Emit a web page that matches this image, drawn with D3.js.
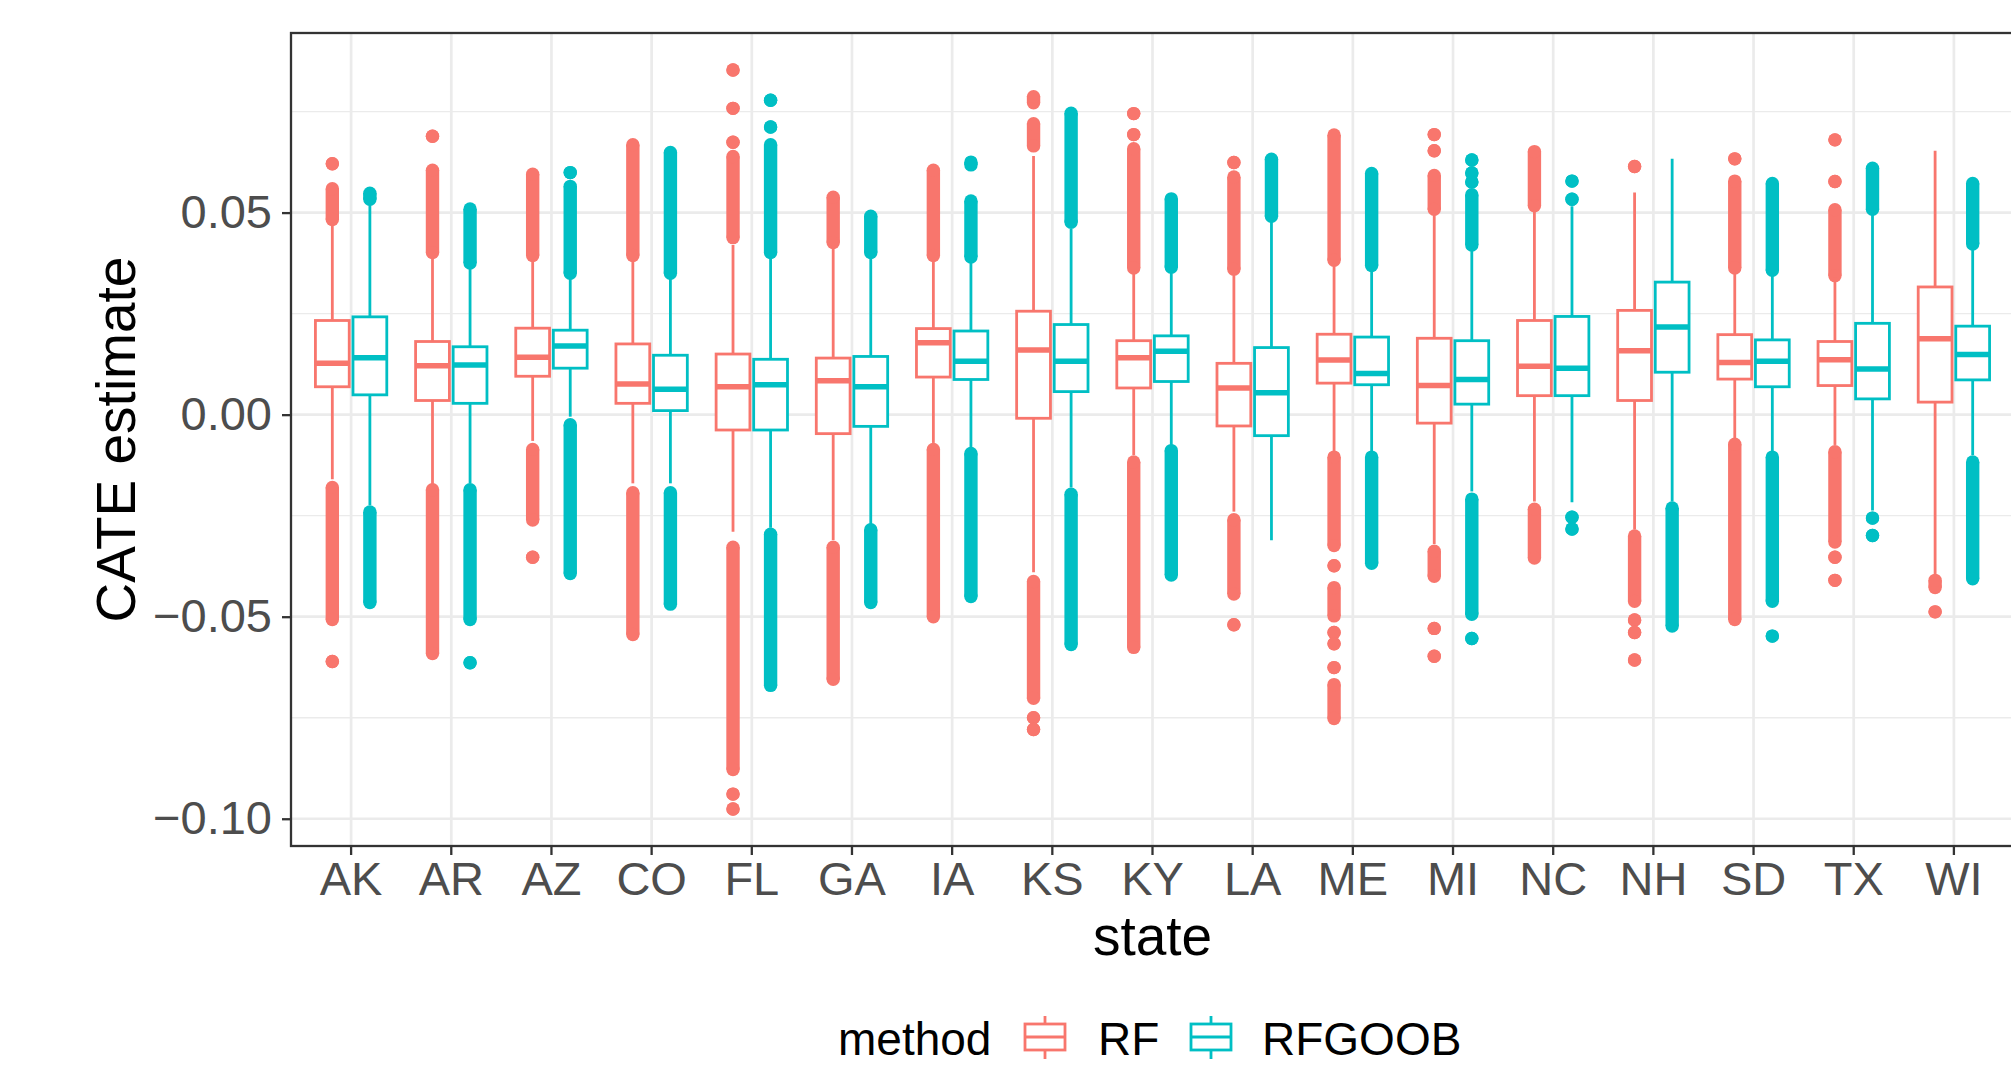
<!DOCTYPE html>
<html>
<head>
<meta charset="utf-8">
<script src="https://cdn.jsdelivr.net/npm/d3@7"></script>
<style>
  body { margin: 0; background: #fff; }
  text { font-family: "Liberation Sans", Arial, Helvetica, sans-serif; }
</style>
</head>
<body>
<div class="canvas"></div>
<script>

// categories and series
const states = ['AK','AR','AZ','CO','FL','GA','IA','KS','KY','LA','ME','MI','NC','NH','SD','TX','WI']
const methods = ['RF', 'RFGOOB']
const yTicks = [-0.10, -0.05, 0.00, 0.05]

// RF box stats, one per state
const rfQ1 = [0.0069, 0.0035, 0.0095, 0.0028, -0.0038, -0.0047, 0.0093, -0.0009, 0.0066, -0.0028, 0.0078, -0.0021, 0.0047, 0.0035, 0.0088, 0.0072, 0.0031]
const rfMedian = [0.0127, 0.0121, 0.0142, 0.0076, 0.0069, 0.0084, 0.0178, 0.0160, 0.0141, 0.0066, 0.0135, 0.0072, 0.0120, 0.0158, 0.0129, 0.0136, 0.0188]
const rfQ3 = [0.0233, 0.0181, 0.0214, 0.0175, 0.0150, 0.0140, 0.0213, 0.0256, 0.0183, 0.0127, 0.0199, 0.0189, 0.0233, 0.0258, 0.0198, 0.0181, 0.0316]
const rfLow = [-0.0160, -0.0175, -0.0065, -0.0170, -0.0290, -0.0310, -0.0070, -0.0390, -0.0100, -0.0240, -0.0090, -0.0320, -0.0215, -0.0284, -0.0060, -0.0075, -0.0397]
const rfHigh = [0.0475, 0.0390, 0.0385, 0.0380, 0.0420, 0.0420, 0.0390, 0.0640, 0.0350, 0.0350, 0.0370, 0.0500, 0.0505, 0.0550, 0.0350, 0.0340, 0.0653]
// outliers: a number is a single point, [lo, hi] is a dense run of points
const rfOutliers = [
  [[0.0483, 0.0559], 0.0621, [-0.0507, -0.0180], -0.0611],
  [[0.0401, 0.0605], 0.0689, [-0.0591, -0.0186]],
  [[0.0394, 0.0595], [-0.0261, -0.0086], -0.0353],
  [[0.0394, 0.0668], [-0.0544, -0.0193]],
  [[0.0438, 0.0639], 0.0674, 0.0758, 0.0853, [-0.0878, -0.0328], -0.0939, -0.0976],
  [[0.0426, 0.0538], [-0.0655, -0.0328]],
  [[0.0394, 0.0605], [-0.0500, -0.0086]],
  [[0.0665, 0.0720], [0.0772, 0.0787], [-0.0702, -0.0413], -0.0750, -0.0779],
  [[0.0363, 0.0658], 0.0693, 0.0745, [-0.0576, -0.0117]],
  [[0.0360, 0.0588], 0.0624, [-0.0444, -0.0260], -0.0520],
  [[0.0382, 0.0692], [-0.0324, -0.0105], -0.0374, [-0.0498, -0.0428], -0.0539, -0.0567, -0.0626, [-0.0752, -0.0668]],
  [[0.0508, 0.0592], 0.0653, 0.0693, [-0.0400, -0.0338], -0.0529, -0.0598],
  [[0.0517, 0.0651], [-0.0355, -0.0234]],
  [0.0614, [-0.0462, -0.0300], -0.0508, -0.0539, -0.0607],
  [[0.0363, 0.0578], 0.0633, [-0.0507, -0.0073]],
  [[0.0344, 0.0507], 0.0577, 0.0680, [-0.0315, -0.0092], -0.0353, -0.0410],
  [[-0.0428, -0.0410], -0.0488]
]

// RFGOOB box stats
const goobQ1 = [0.0049, 0.0028, 0.0115, 0.0010, -0.0038, -0.0029, 0.0087, 0.0057, 0.0082, -0.0052, 0.0074, 0.0026, 0.0047, 0.0105, 0.0069, 0.0039, 0.0086]
const goobMedian = [0.0141, 0.0123, 0.0170, 0.0063, 0.0074, 0.0069, 0.0132, 0.0132, 0.0157, 0.0054, 0.0102, 0.0087, 0.0115, 0.0217, 0.0132, 0.0113, 0.0149]
const goobQ3 = [0.0242, 0.0168, 0.0209, 0.0147, 0.0137, 0.0144, 0.0207, 0.0223, 0.0195, 0.0166, 0.0192, 0.0183, 0.0243, 0.0328, 0.0185, 0.0226, 0.0219]
const goobLow = [-0.0224, -0.0170, -0.0005, -0.0170, -0.0280, -0.0275, -0.0085, -0.0180, -0.0075, -0.0311, -0.0090, -0.0190, -0.0217, -0.0215, -0.0090, -0.0237, -0.0100]
const goobHigh = [0.0520, 0.0365, 0.0340, 0.0340, 0.0390, 0.0395, 0.0380, 0.0460, 0.0355, 0.0480, 0.0360, 0.0410, 0.0516, 0.0633, 0.0350, 0.0500, 0.0410]
const goobOutliers = [
  [[0.0533, 0.0548], [-0.0465, -0.0241]],
  [[0.0375, 0.0509], [-0.0507, -0.0186], -0.0614],
  [[0.0350, 0.0565], 0.0599, [-0.0393, -0.0025]],
  [[0.0350, 0.0649], [-0.0469, -0.0193]],
  [[0.0401, 0.0668], 0.0712, 0.0778, [-0.0670, -0.0296]],
  [[0.0401, 0.0491], [-0.0465, -0.0285]],
  [[0.0390, 0.0529], [0.0618, 0.0625], [-0.0450, -0.0096]],
  [[0.0476, 0.0746], [-0.0569, -0.0197]],
  [[0.0365, 0.0534], [-0.0397, -0.0089]],
  [[0.0491, 0.0632]],
  [[0.0369, 0.0597], [-0.0368, -0.0105]],
  [[0.0420, 0.0544], 0.0576, 0.0598, 0.0630, [-0.0494, -0.0209], -0.0554],
  [0.0533, 0.0578, -0.0254, -0.0283],
  [[-0.0523, -0.0231]],
  [[0.0357, 0.0572], [-0.0462, -0.0105], -0.0548],
  [[0.0508, 0.0610], -0.0256, -0.0299],
  [[0.0422, 0.0572], [-0.0406, -0.0117]]
]

const colors = {RF: '#F8766D', RFGOOB: '#00BFC4'}

// build rows for drawing
const stats = {
  RF: {q1: rfQ1, med: rfMedian, q3: rfQ3, lo: rfLow, hi: rfHigh, out: rfOutliers},
  RFGOOB: {q1: goobQ1, med: goobMedian, q3: goobQ3, lo: goobLow, hi: goobHigh, out: goobOutliers}
}
const boxes = []
methods.forEach(m => {
  states.forEach((s, i) => {
    const st = stats[m]
    boxes.push({
      state: s, method: m,
      q1: st.q1[i], med: st.med[i], q3: st.q3[i], lo: st.lo[i], hi: st.hi[i],
      out: st.out[i].map(o => typeof o === 'number' ? [o, o] : o)
    })
  })
})

// svg + dimensions
const W = 2011, H = 1066
const svg = d3.select('.canvas')
  .append('svg')
  .attr('width', W)
  .attr('height', H)
  .style('display', 'block')

svg.append('rect').attr('width', W).attr('height', H).attr('fill', '#fff')

const margin = {top: 33, left: 291}
const graphWidth = 1723
const graphHeight = 813

const graph = svg.append('g')
  .attr('transform', `translate(${margin.left}, ${margin.top})`)

// scales
const allVals = boxes.flatMap(b => [b.lo, b.hi, ...b.out.flat()])
const [vmin, vmax] = d3.extent(allVals)
const pad = (vmax - vmin) * 0.05
const y = d3.scaleLinear()
  .domain([vmin - pad, vmax + pad])
  .range([graphHeight, 0])

const x = d3.scaleBand()
  .domain(states)
  .range([0, graphWidth])
  .paddingInner(0)
  .paddingOuter(0.1)

const step = x.step()
const sub = d3.scaleBand()
  .domain(methods)
  .range([-0.375 * step, 0.375 * step])

const boxW = sub.bandwidth() * 0.9
const cx = d => x(d.state) + x.bandwidth() / 2 + sub(d.method) + sub.bandwidth() / 2

// grid lines
const minorTicks = d3.range(yTicks.length - 1).map(i => (yTicks[i] + yTicks[i + 1]) / 2)
minorTicks.push(yTicks[yTicks.length - 1] + 0.025)

graph.selectAll('.minor')
  .data(minorTicks)
  .enter().append('line')
  .attr('x1', 0).attr('x2', graphWidth)
  .attr('y1', d => y(d)).attr('y2', d => y(d))
  .attr('stroke', '#EBEBEB')
  .attr('stroke-width', 1.4)

graph.selectAll('.major')
  .data(yTicks)
  .enter().append('line')
  .attr('x1', 0).attr('x2', graphWidth)
  .attr('y1', d => y(d)).attr('y2', d => y(d))
  .attr('stroke', '#EBEBEB')
  .attr('stroke-width', 2.7)

graph.selectAll('.vgrid')
  .data(states)
  .enter().append('line')
  .attr('x1', d => x(d) + x.bandwidth() / 2)
  .attr('x2', d => x(d) + x.bandwidth() / 2)
  .attr('y1', 0).attr('y2', graphHeight)
  .attr('stroke', '#EBEBEB')
  .attr('stroke-width', 2.7)

// boxplots
const r = 6.7
const groups = graph.selectAll('.box')
  .data(boxes)
  .enter().append('g')

// outliers first, like ggplot
groups.each(function(d) {
  const g = d3.select(this)
  const c = colors[d.method]
  d.out.forEach(([lo, hi]) => {
    if (lo !== hi) {
      g.append('line')
        .attr('x1', cx(d)).attr('x2', cx(d))
        .attr('y1', y(lo)).attr('y2', y(hi))
        .attr('stroke', c)
        .attr('stroke-width', r * 2)
    }
    g.append('circle').attr('cx', cx(d)).attr('cy', y(lo)).attr('r', r).attr('fill', c)
    g.append('circle').attr('cx', cx(d)).attr('cy', y(hi)).attr('r', r).attr('fill', c)
  })
})

// whiskers
groups.append('line')
  .attr('x1', cx).attr('x2', cx)
  .attr('y1', d => y(d.hi)).attr('y2', d => y(d.lo))
  .attr('stroke', d => colors[d.method])
  .attr('stroke-width', 2.8)

groups.append('rect')
  .attr('x', d => cx(d) - boxW / 2)
  .attr('width', boxW)
  .attr('y', d => y(d.q3))
  .attr('height', d => y(d.q1) - y(d.q3))
  .attr('fill', '#fff')
  .attr('stroke', d => colors[d.method])
  .attr('stroke-width', 2.8)

groups.append('line')
  .attr('x1', d => cx(d) - boxW / 2)
  .attr('x2', d => cx(d) + boxW / 2)
  .attr('y1', d => y(d.med)).attr('y2', d => y(d.med))
  .attr('stroke', d => colors[d.method])
  .attr('stroke-width', 5.5)

// panel border
graph.append('rect')
  .attr('width', graphWidth)
  .attr('height', graphHeight)
  .attr('fill', 'none')
  .attr('stroke', '#333333')
  .attr('stroke-width', 2.3)

// axes
const yAxis = d3.axisLeft(y)
  .tickValues(yTicks)
  .tickFormat(d3.format('.2f'))
  .tickSize(9)
  .tickPadding(10)

const xAxis = d3.axisBottom(x)
  .tickSize(9)
  .tickPadding(7)

const yAxisGroup = graph.append('g').call(yAxis)
const xAxisGroup = graph.append('g')
  .attr('transform', `translate(0, ${graphHeight})`)
  .call(xAxis)

;[xAxisGroup, yAxisGroup].forEach(a => {
  a.select('.domain').remove()
  a.selectAll('line').attr('stroke', '#333333').attr('stroke-width', 2.3)
  a.selectAll('text')
    .attr('fill', '#4D4D4D')
    .style('font-size', '47px')
    .style('font-family', '"Liberation Sans", Arial, sans-serif')
})

// axis titles
svg.append('text')
  .attr('transform', `translate(135, ${margin.top + graphHeight / 2}) rotate(-90)`)
  .attr('text-anchor', 'middle')
  .style('font-size', '55px')
  .attr('fill', '#000')
  .text('CATE estimate')

svg.append('text')
  .attr('x', margin.left + graphWidth / 2)
  .attr('y', 955)
  .attr('text-anchor', 'middle')
  .style('font-size', '55px')
  .attr('fill', '#000')
  .text('state')

// legend (kept a few px above the bottom edge)
const legendBase = 1055
const legend = svg.append('g')
legend.append('text')
  .attr('x', 838).attr('y', legendBase)
  .style('font-size', '46px')
  .attr('fill', '#000')
  .text('method')

const keyX = {RF: 1045, RFGOOB: 1211}
const labelX = {RF: 1098, RFGOOB: 1262}
methods.forEach(m => {
  const k = legend.append('g')
  const c = colors[m]
  k.append('line')
    .attr('x1', keyX[m]).attr('x2', keyX[m])
    .attr('y1', legendBase - 39).attr('y2', legendBase + 4)
    .attr('stroke', c).attr('stroke-width', 2.8)
  k.append('rect')
    .attr('x', keyX[m] - 20).attr('width', 40)
    .attr('y', legendBase - 31).attr('height', 26)
    .attr('fill', '#fff')
    .attr('stroke', c).attr('stroke-width', 2.8)
  k.append('line')
    .attr('x1', keyX[m] - 20).attr('x2', keyX[m] + 20)
    .attr('y1', legendBase - 18).attr('y2', legendBase - 18)
    .attr('stroke', c).attr('stroke-width', 2.8)
  legend.append('text')
    .attr('x', labelX[m]).attr('y', legendBase)
    .style('font-size', '46px')
    .attr('fill', '#000')
    .text(m)
})

</script>
</body>
</html>
